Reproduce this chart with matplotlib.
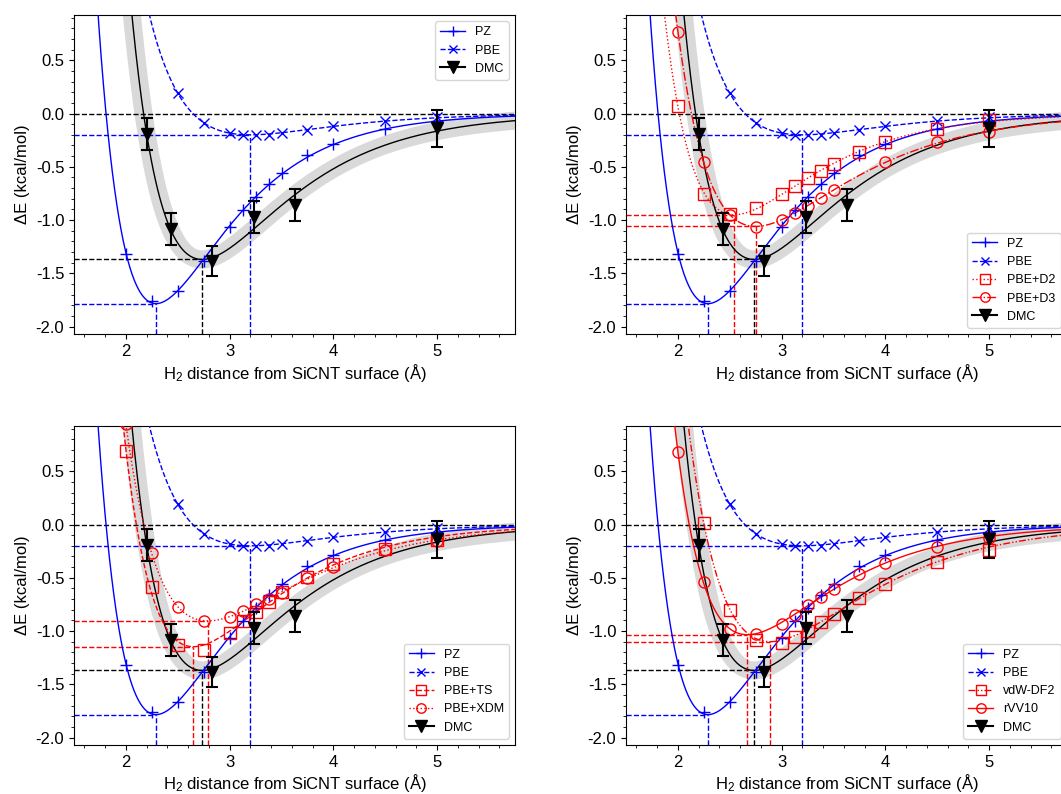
import numpy as np
import matplotlib
matplotlib.use('Agg')
import matplotlib.pyplot as plt
from matplotlib.lines import Line2D
from matplotlib.ticker import MultipleLocator

plt.rcParams['font.family'] = ['Liberation Sans', 'DejaVu Sans']
plt.rcParams['mathtext.fontset'] = 'custom'
plt.rcParams['mathtext.rm'] = 'Liberation Sans'
plt.rcParams['mathtext.it'] = 'Liberation Sans:italic'
plt.rcParams['axes.unicode_minus'] = False

# binding energies (kcal/mol) vs H2 distance (Å)
r_pz = [2.0, 2.25, 2.5, 2.75, 3.0, 3.125, 3.25, 3.375, 3.5, 3.75, 4.0, 4.5, 5.0]
e_pz = [-1.32, -1.76, -1.67, -1.38, -1.07, -0.91, -0.78, -0.66, -0.56, -0.39, -0.285, -0.147, -0.07]

r_pbe = [2.5, 2.75, 3.0, 3.125, 3.25, 3.375, 3.5, 3.75, 4.0, 4.5, 5.0]
e_pbe = [0.19, -0.09, -0.185, -0.2, -0.2, -0.197, -0.185, -0.153, -0.116, -0.066, -0.03]

r_d2 = [2.0, 2.25, 2.5, 2.75, 3.0, 3.125, 3.25, 3.375, 3.5, 3.75, 4.0, 4.5, 5.0]
e_d2 = [0.07, -0.755, -0.94, -0.89, -0.755, -0.68, -0.61, -0.535, -0.475, -0.36, -0.27, -0.147, -0.06]

r_d3 = [2.0, 2.25, 2.5, 2.75, 3.0, 3.125, 3.25, 3.375, 3.5, 4.0, 4.5, 5.0]
e_d3 = [0.77, -0.455, -0.95, -1.07, -1.0, -0.935, -0.865, -0.79, -0.715, -0.455, -0.272, -0.175]

r_ts = [2.0, 2.25, 2.5, 2.75, 3.0, 3.125, 3.25, 3.375, 3.5, 3.75, 4.0, 4.5, 5.0]
e_ts = [0.69, -0.585, -1.13, -1.175, -1.02, -0.91, -0.82, -0.73, -0.635, -0.495, -0.37, -0.23, -0.15]

r_xdm = [2.0, 2.25, 2.5, 2.75, 3.0, 3.125, 3.25, 3.375, 3.5, 3.75, 4.0, 4.5, 5.0]
e_xdm = [0.94, -0.27, -0.775, -0.91, -0.87, -0.815, -0.745, -0.7, -0.645, -0.5, -0.40, -0.24, -0.155]

r_df2 = [2.25, 2.5, 2.75, 3.0, 3.125, 3.25, 3.375, 3.5, 3.75, 4.0, 4.5, 5.0]
e_df2 = [0.015, -0.80, -1.085, -1.11, -1.06, -0.995, -0.915, -0.84, -0.69, -0.555, -0.355, -0.235]

r_vv10 = [2.0, 2.25, 2.5, 2.75, 3.0, 3.125, 3.25, 3.375, 3.5, 3.75, 4.0, 4.5, 5.0]
e_vv10 = [0.68, -0.535, -0.985, -1.03, -0.93, -0.845, -0.76, -0.68, -0.61, -0.46, -0.36, -0.21, -0.125]

r_dmc = [2.2, 2.43, 2.83, 3.23, 3.63, 5.0]
e_dmc = [-0.19, -1.08, -1.385, -0.97, -0.855, -0.14]
err_dmc = [0.15, 0.15, 0.14, 0.15, 0.15, 0.17]

# equilibrium distance / well depth of each fitted curve
minima = {
    'PZ': (2.29, -1.785),
    'PBE': (3.20, -0.20),
    'PBE+D2': (2.545, -0.95),
    'PBE+D3': (2.75, -1.06),
    'PBE+TS': (2.65, -1.147),
    'PBE+XDM': (2.79, -0.905),
    'vdW-DF2': (2.89, -1.10),
    'rVV10': (2.67, -1.035),
    'DMC': (2.735, -1.37),
}

data = {
    'PZ': (r_pz, e_pz),
    'PBE': (r_pbe, e_pbe),
    'PBE+D2': (r_d2, e_d2),
    'PBE+D3': (r_d3, e_d3),
    'PBE+TS': (r_ts, e_ts),
    'PBE+XDM': (r_xdm, e_xdm),
    'vdW-DF2': (r_df2, e_df2),
    'rVV10': (r_vv10, e_vv10),
}

styles = {
    'PZ': dict(color='blue', ls='-', marker='+', ms=8, mfc='blue'),
    'PBE': dict(color='blue', ls='--', marker='x', ms=7, mfc='blue'),
    'PBE+D2': dict(color='red', ls=':', marker='s', ms=8, mfc='none'),
    'PBE+D3': dict(color='red', ls='-.', marker='o', ms=8, mfc='none'),
    'PBE+TS': dict(color='red', ls='--', marker='s', ms=8, mfc='none'),
    'PBE+XDM': dict(color='red', ls=':', marker='o', ms=8, mfc='none'),
    'vdW-DF2': dict(color='red', ls=(0, (5, 1.5, 1, 1.5, 1, 1.5)), marker='s', ms=8, mfc='none'),
    'rVV10': dict(color='red', ls='-', marker='o', ms=8, mfc='none'),
}

panels = [
    ([], 'upper right'),
    (['PBE+D2', 'PBE+D3'], 'lower right'),
    (['PBE+TS', 'PBE+XDM'], 'lower right'),
    (['vdW-DF2', 'rVV10'], 'lower right'),
]

XLIM = (1.5, 5.75)
YLIM = (-2.07, 0.925)


def morse(r, r0, e0, a):
    r = np.asarray(r, dtype=float)
    return -e0 * ((1 - np.exp(-a * (r - r0))) ** 2 - 1)


def fit_width(r, e, r0, e0, w=None):
    # least squares for the Morse width with the minimum held fixed
    r = np.asarray(r)
    e = np.asarray(e)
    w = np.ones_like(e) if w is None else np.asarray(w)
    widths = np.linspace(0.8, 2.2, 1401)
    sse = [np.sum(w * (morse(r, r0, e0, a) - e) ** 2) for a in widths]
    return widths[int(np.argmin(sse))]


rr = np.linspace(XLIM[0], XLIM[1], 600)


def draw_min(ax, name, color):
    r0, e0 = minima[name]
    ax.plot([XLIM[0], r0], [e0, e0], ls='--', color=color, lw=1.0, zorder=2)
    ax.plot([r0, r0], [YLIM[0], e0], ls='--', color=color, lw=1.0, zorder=2)


def draw_method(ax, name):
    st = styles[name]
    r, e = data[name]
    r0, e0 = minima[name]
    a = fit_width(r, e, r0, e0)
    ax.plot(rr, morse(rr, r0, e0, a), color=st['color'], ls=st['ls'], lw=1.0, zorder=3)
    ax.plot(r, e, ls='none', marker=st['marker'], ms=st['ms'], mfc=st['mfc'],
            mec=st['color'], mew=1.0, zorder=4)
    draw_min(ax, name, st['color'])
    return Line2D([], [], color=st['color'], ls=st['ls'], lw=1.0, marker=st['marker'],
                  ms=st['ms'] * 0.85, mfc=st['mfc'], mec=st['color'])


fig = plt.figure(figsize=(10.61, 7.94), dpi=100)
positions = [
    [74 / 1061, 1 - 334 / 794, 441 / 1061, 319 / 794],
    [626 / 1061, 1 - 334 / 794, 441 / 1061, 319 / 794],
    [74 / 1061, 1 - 745 / 794, 441 / 1061, 319 / 794],
    [626 / 1061, 1 - 745 / 794, 441 / 1061, 319 / 794],
]

for pos, (extra, loc) in zip(positions, panels):
    ax = fig.add_axes(pos)
    ax.axhline(0, color='k', ls='--', lw=1.0, zorder=2)

    # DMC fit with its uncertainty band
    r0, e0 = minima['DMC']
    w = 1 / np.asarray(err_dmc) ** 2
    a_dmc = fit_width(r_dmc, e_dmc, r0, e0, w)
    e_fit = morse(rr, r0, e0, a_dmc)
    ax.plot(rr, e_fit, color='#d9d9d9', lw=13, solid_capstyle='butt', zorder=1)
    ax.plot(rr, e_fit, color='k', lw=1.0, zorder=3)
    draw_min(ax, 'DMC', 'k')

    handles = [draw_method(ax, 'PZ'), draw_method(ax, 'PBE')]
    labels = ['PZ', 'PBE']
    for name in extra:
        handles.append(draw_method(ax, name))
        labels.append(name)

    ax.errorbar(r_dmc, e_dmc, yerr=err_dmc, fmt='v', color='k', ms=9,
                capsize=4, elinewidth=1.5, capthick=1.5, zorder=5)
    handles.append(Line2D([], [], color='k', lw=1.5, marker='v', ms=9))
    labels.append('DMC')

    ax.set_xlim(XLIM)
    ax.set_ylim(YLIM)
    ax.xaxis.set_major_locator(MultipleLocator(1))
    ax.xaxis.set_minor_locator(MultipleLocator(0.2))
    ax.yaxis.set_major_locator(MultipleLocator(0.5))
    ax.yaxis.set_minor_locator(MultipleLocator(0.1))
    ax.tick_params(labelsize=12)
    ax.set_xlabel('H$_2$ distance from SiCNT surface (Å)', fontsize=12, labelpad=2)
    ax.set_ylabel('ΔE (kcal/mol)', fontsize=12)
    ax.legend(handles, labels, loc=loc, fontsize=9)

fig.savefig('out.png', dpi=100)
